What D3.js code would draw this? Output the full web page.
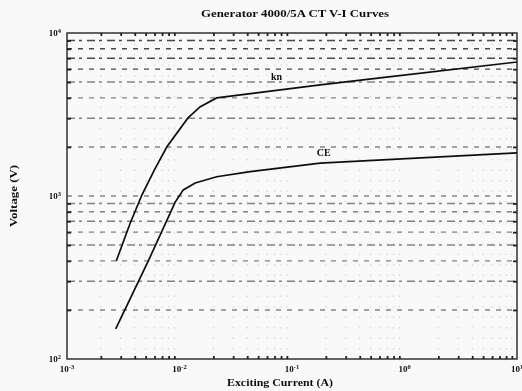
<!DOCTYPE html>
<html>
<head>
<script src="https://d3js.org/d3.v7.min.js"></script>
<style>
  body { margin: 0; background: #f9f9f9; }
  text { font-family: "Liberation Serif", serif; font-weight: bold; fill: #111; }
</style>
</head>
<body>
<script>
// data
var kneeCurrent = [0.00274, 0.00365, 0.00463, 0.0060, 0.00773, 0.0119, 0.0153, 0.0214, 0.178, 0.607, 10];
var kneeVoltage = [399, 683, 1014, 1450, 2005, 3013, 3533, 3999, 4800, 5300, 6640];
var ceCurrent = [0.00271, 0.00527, 0.00916, 0.0108, 0.0138, 0.0214, 0.0425, 0.178, 10];
var ceVoltage = [153, 399, 918, 1090, 1202, 1312, 1410, 1593, 1837];
var xTicks = [1e-3, 1e-2, 1e-1, 1e0, 1e1];
var xTickExp = ["-3", "-2", "-1", "0", "1"];
var yTicks = [1e2, 1e3, 1e4];
var yTickExp = ["2", "3", "4"];

var W = 522, H = 391;
var margin = {top: 33, right: 5, bottom: 32, left: 67};
var width = W - margin.left - margin.right,
    height = H - margin.top - margin.bottom;

var svg = d3.select("body").append("svg")
    .attr("width", W).attr("height", H);

svg.append("defs").append("filter").attr("id", "scan")
  .append("feGaussianBlur").attr("stdDeviation", 0.6);

var root = svg.append("g").attr("filter", "url(#scan)");

var g = root.append("g")
    .attr("transform", "translate(" + margin.left + "," + margin.top + ")");

var x = d3.scaleLog().domain([1e-3, 1e1]).range([0, width]);
var y = d3.scaleLog().domain([1e2, 1e4]).range([height, 0]);

// minor values
var yMinor = [], xMinor = [];
[100, 1000].forEach(function(d) { for (var k = 2; k <= 9; k++) yMinor.push(d * k); });
[1e-3, 1e-2, 1e-1, 1].forEach(function(d) { for (var k = 2; k <= 9; k++) xMinor.push(d * k); });

// horizontal dashed grid
g.selectAll(".hgrid")
  .data(yMinor.concat([1e3]))
  .enter().append("line")
    .attr("x1", 0).attr("x2", width)
    .attr("y1", function(d) { return y(d); })
    .attr("y2", function(d) { return y(d); })
    .attr("stroke", "#333")
    .attr("stroke-width", 1.4)
    .attr("stroke-dasharray", function(d, i) { return i % 2 ? "8,4,3,5" : "5,6"; })
    .attr("opacity", function(d) { return d > 5000 ? 0.9 : 0.6; });

// faint vertical dots
g.selectAll(".vgrid")
  .data(xMinor)
  .enter().append("line")
    .attr("x1", function(d) { return x(d); })
    .attr("x2", function(d) { return x(d); })
    .attr("y1", 0).attr("y2", height)
    .attr("stroke", "#777")
    .attr("stroke-dasharray", "1.5,9")
    .attr("opacity", 0.3);

// frame
g.append("rect")
    .attr("width", width).attr("height", height)
    .attr("fill", "none").attr("stroke", "#222").attr("stroke-width", 1.4);

// axes with inward ticks
var xAxis = g.append("g")
    .attr("transform", "translate(0," + height + ")")
    .call(d3.axisBottom(x).tickValues(xMinor).tickSize(-3).tickFormat(""));
var xAxisTop = g.append("g")
    .call(d3.axisTop(x).tickValues(xMinor).tickSize(-3).tickFormat(""));
var yAxis = g.append("g")
    .call(d3.axisLeft(y).tickValues(yMinor).tickSize(-4).tickFormat(""));
var yAxisR = g.append("g")
    .attr("transform", "translate(" + width + ",0)")
    .call(d3.axisRight(y).tickValues(yMinor).tickSize(-4).tickFormat(""));
[xAxis, xAxisTop, yAxis, yAxisR].forEach(function(a) {
  a.select(".domain").remove();
  a.selectAll("line").attr("stroke", "#222").attr("stroke-width", 1.8);
});

// tick labels
xTicks.forEach(function(v, i) {
  var t = g.append("text")
      .attr("x", x(v)).attr("y", height + 13)
      .attr("text-anchor", "middle").style("font-size", "9px");
  t.append("tspan").text("10");
  t.append("tspan").attr("dy", -3).style("font-size", "6.5px").text(xTickExp[i]);
});
yTicks.forEach(function(v, i) {
  var t = g.append("text")
      .attr("x", -6).attr("y", y(v) + 3)
      .attr("text-anchor", "end").style("font-size", "9px");
  t.append("tspan").text("10");
  t.append("tspan").attr("dy", -3).style("font-size", "6.5px").text(yTickExp[i]);
});

// curves
var line = d3.line()
    .x(function(d) { return x(d[0]); })
    .y(function(d) { return y(d[1]); });

g.append("path")
    .datum(d3.zip(kneeCurrent, kneeVoltage))
    .attr("d", line)
    .attr("fill", "none").attr("stroke", "#111").attr("stroke-width", 1.7);
g.append("path")
    .datum(d3.zip(ceCurrent, ceVoltage))
    .attr("d", line)
    .attr("fill", "none").attr("stroke", "#111").attr("stroke-width", 1.7);

g.append("text").attr("x", x(0.073)).attr("y", y(5150))
    .attr("text-anchor", "middle").style("font-size", "10px").text("kn");
g.append("text").attr("x", x(0.191)).attr("y", y(1758))
    .attr("text-anchor", "middle").style("font-size", "10px").text("CE");

// titles
root.append("text")
    .attr("x", 295).attr("y", 17)
    .attr("text-anchor", "middle").style("font-size", "9.5px")
    .attr("textLength", 188).attr("lengthAdjust", "spacingAndGlyphs")
    .text("Generator 4000/5A CT V-I Curves");
root.append("text")
    .attr("x", 280).attr("y", 386)
    .attr("text-anchor", "middle").style("font-size", "9.5px")
    .attr("textLength", 106).attr("lengthAdjust", "spacingAndGlyphs")
    .text("Exciting Current (A)");
root.append("text")
    .attr("transform", "translate(17,196) rotate(-90)")
    .attr("text-anchor", "middle").style("font-size", "9.5px")
    .attr("textLength", 62).attr("lengthAdjust", "spacingAndGlyphs")
    .text("Voltage (V)");
</script>
</body>
</html>
